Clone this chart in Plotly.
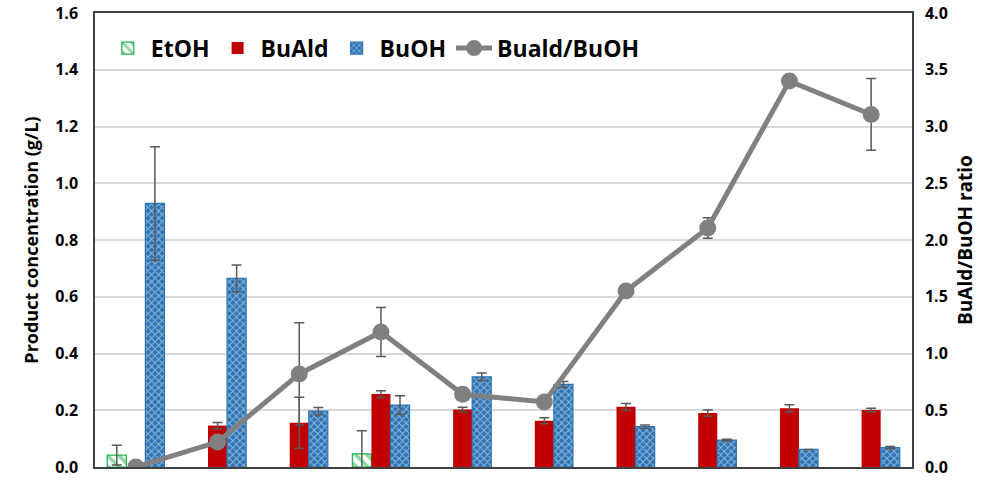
import plotly.graph_objects as go

# Ten sampling points (no tick labels are shown on the x axis)
samples = ["S1", "S2", "S3", "S4", "S5", "S6", "S7", "S8", "S9", "S10"]

# Product concentrations (g/L) and their standard deviations
etoh = [0.042, None, None, 0.046, None, None, None, None, None, None]
etoh_err = [0.035, None, None, 0.082, None, None, None, None, None, None]

buald = [None, 0.146, 0.156, 0.257, 0.203, 0.163, 0.212, 0.190, 0.207, 0.201]
buald_err = [None, 0.011, 0.090, 0.012, 0.008, 0.011, 0.012, 0.011, 0.012, 0.006]

buoh = [0.929, 0.665, 0.197, 0.218, 0.318, 0.291, 0.142, 0.095, 0.062, 0.068]
buoh_err = [0.200, 0.047, 0.013, 0.033, 0.013, 0.010, 0.006, 0.003, 0.0, 0.004]

# BuAld/BuOH ratio (right axis)
ratio = [0.00, 0.22, 0.82, 1.19, 0.64, 0.573, 1.551, 2.106, 3.40, 3.106]
ratio_err = [0.0, 0.0, 0.45, 0.216, 0.0, 0.0, 0.0, 0.09, 0.0, 0.316]

left_ticks = [0.0, 0.2, 0.4, 0.6, 0.8, 1.0, 1.2, 1.4, 1.6]
right_ticks = [0.0, 0.5, 1.0, 1.5, 2.0, 2.5, 3.0, 3.5, 4.0]

FONT = "Open Sans"
ERR_COLOR = "#595959"


def err(vals):
    return dict(type="data", array=vals, visible=True, color=ERR_COLOR,
                thickness=1.5, width=5)


fig = go.Figure()

fig.add_trace(go.Bar(
    x=samples, y=etoh, name="EtOH", error_y=err(etoh_err),
    marker=dict(color="white", line=dict(color="#21B04B", width=1.2),
                pattern=dict(shape="\\", fgcolor="#21B04B", bgcolor="white",
                             size=8, solidity=0.45)),
))
fig.add_trace(go.Bar(
    x=samples, y=buald, name="BuAld", error_y=err(buald_err),
    marker=dict(color="#C00000", line=dict(color="#C00000", width=0)),
))
fig.add_trace(go.Bar(
    x=samples, y=buoh, name="BuOH", error_y=err(buoh_err),
    marker=dict(color="#2E75B6", line=dict(color="#2E75B6", width=1.2),
                pattern=dict(shape="x", fgcolor="white", bgcolor="#2E75B6",
                             size=5, solidity=0.35)),
))
fig.add_trace(go.Scatter(
    x=samples, y=ratio, name="Buald/BuOH", yaxis="y2",
    mode="lines+markers",
    line=dict(color="#808080", width=5),
    marker=dict(color="#808080", size=17),
    error_y=err(ratio_err),
))

tick_font = dict(family=FONT, size=16, color="black", weight="bold")

fig.update_layout(
    width=983, height=484,
    margin=dict(l=95, r=71, t=13, b=17),
    paper_bgcolor="white", plot_bgcolor="white",
    barmode="group", bargap=0.30, bargroupgap=0,
    showlegend=True,
    legend=dict(orientation="h", x=0.012, y=0.97, xanchor="left", yanchor="top",
                font=dict(family=FONT, size=23, color="black", weight="bold"),
                bgcolor="rgba(0,0,0,0)", itemwidth=36, tracegroupgap=0),
    xaxis=dict(range=[-0.5, len(samples) - 0.5], autorange=False,
               showticklabels=False, ticks="", showgrid=False,
               showline=True, linecolor="#404040", linewidth=1.5, mirror=True),
    yaxis=dict(range=[0, 1.6], tickvals=left_ticks, tickformat=".1f",
               tickfont=tick_font, ticks="", ticklabelstandoff=12,
               automargin=False,
               showgrid=True, gridcolor="#D9D9D9", gridwidth=1.5,
               zeroline=False, showline=True, linecolor="#404040", linewidth=1.5,
               title=dict(text="Product concentration (g/L)",
                          font=dict(family=FONT, size=18, color="black", weight="bold"),
                          standoff=12)),
    yaxis2=dict(range=[0, 4.0], tickvals=right_ticks, tickformat=".1f",
                overlaying="y", side="right", tickfont=tick_font, ticks="",
                ticklabelstandoff=8, automargin=False,
                showgrid=False, zeroline=False,
                showline=True, linecolor="#404040", linewidth=1.5,
                title=dict(text="BuAld/BuOH ratio",
                           font=dict(family=FONT, size=19, color="black", weight="bold"),
                           standoff=12)),
)

fig.write_html("out.html")
